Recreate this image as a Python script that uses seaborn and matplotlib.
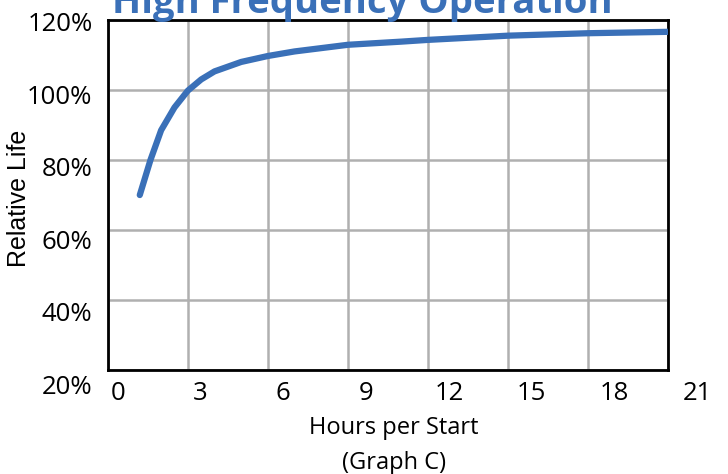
import seaborn as sns
import matplotlib.pyplot as plt
import matplotlib.transforms as mtransforms
import pandas as pd

# curve
hours = [1.2, 1.6, 2.0, 2.5, 3.0, 3.5, 4.0, 5.0, 6.0, 7.0, 9.0, 11.0, 12.0, 15.0, 18.0, 21.0]
life = [70, 80, 88.5, 95, 99.8, 103, 105.3, 108, 109.7, 111, 112.9, 113.8, 114.3, 115.5, 116.2, 116.6]

x_ticks = [0, 3, 6, 9, 12, 15, 18, 21]
y_ticks = [20, 40, 60, 80, 100, 120]

sns.set_style('white')
plt.rcParams['font.family'] = ['Open Sans', 'DejaVu Sans']
plt.rcParams['text.color'] = 'black'
plt.rcParams['axes.labelcolor'] = 'black'

df = pd.DataFrame({'Hours per Start': hours, 'Relative Life': life})

fig = plt.figure(figsize=(7.28, 4.74), dpi=100)
ax = fig.add_axes([0.148, 0.219, 0.770, 0.739])

sns.lineplot(data=df, x='Hours per Start', y='Relative Life', ax=ax,
             color='#3a70b8', linewidth=4.5, zorder=3)

ax.set_xlim(0, 21)
ax.set_ylim(20, 120)
ax.set_xticks(x_ticks)
ax.set_yticks(y_ticks)
ax.set_yticklabels(['{}%'.format(t) for t in y_ticks])
ax.grid(True, color='#b0b0b0', linewidth=1.8)
ax.tick_params(length=0, labelsize=18.5, labelcolor='black')
ax.tick_params(axis='x', pad=8)
ax.tick_params(axis='y', pad=11)
for s in ax.spines.values():
    s.set_color('black')
    s.set_linewidth(2)

# the original's tick labels drift slightly off the grid lines
for v, lab in zip(x_ticks, ax.get_xticklabels()):
    dx = (10 + 0.9 * v) / 100
    lab.set_transform(lab.get_transform() + mtransforms.ScaledTranslation(dx, 0, fig.dpi_scale_trans))
for v, lab in zip(y_ticks, ax.get_yticklabels()):
    dy = -(2 + 0.12 * (120 - v)) / 100
    lab.set_transform(lab.get_transform() + mtransforms.ScaledTranslation(0, dy, fig.dpi_scale_trans))

ax.set_xlabel('Hours per Start\n(Graph C)', fontsize=17, linespacing=1.6, color='black')
ax.xaxis.set_label_coords(0.51, -0.13, transform=ax.transAxes)
ax.xaxis.label.set_va('top')
ax.set_ylabel('Relative Life', fontsize=18, color='black',
              family=['Liberation Sans', 'DejaVu Sans'])
ax.yaxis.set_label_coords(-0.137, 0.49)

fig.text(0.497, 1 - 13 / 474, 'High Frequency Operation', ha='center', va='baseline',
         fontsize=27.5, fontweight='bold', color='#3a70b8')

fig.savefig('out.png', dpi=100)
